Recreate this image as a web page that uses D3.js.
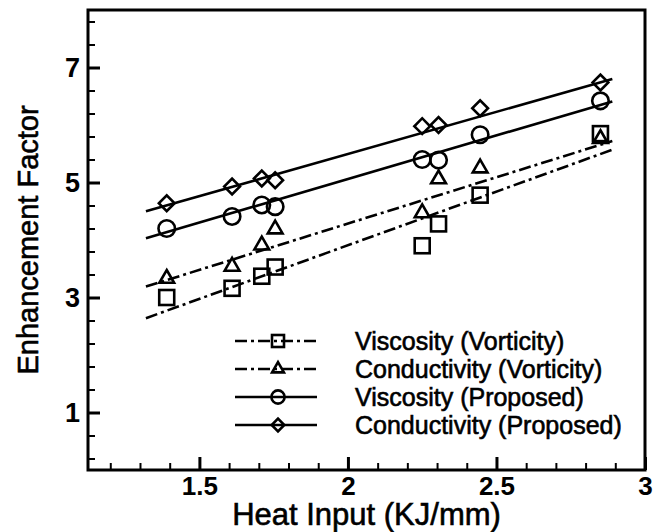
<!DOCTYPE html>
<html lang="en">
<head>
  <meta charset="UTF-8">
  <title>Enhancement Factor vs Heat Input</title>
  <style>
    body { margin: 0; background: #fff; }
    svg { display: block; font-family: "Liberation Sans", Arial, sans-serif; }
    .heavy { stroke: #000; stroke-width: 0.6px; }
  </style>
</head>
<body>
  <svg width="670" height="532"></svg>

  <script src="https://d3js.org/d3.v7.min.js"></script>
  <script>
    // values
    const heatInput = [1.39, 1.61, 1.71, 1.755, 2.25, 2.305, 2.445, 2.85];
    const viscVort = [3.00, 3.16, 3.37, 3.53, 3.90, 4.28, 4.78, 5.85];
    const condVort = [3.33, 3.54, 3.91, 4.19, 4.47, 5.06, 5.25, 5.76];
    const viscProp = [4.20, 4.41, 4.61, 4.58, 5.40, 5.39, 5.83, 6.42];
    const condProp = [4.64, 4.93, 5.07, 5.04, 5.98, 6.00, 6.29, 6.74];

    // fitted straight lines, ends
    const fitX = [1.32, 2.89];
    const fitViscVort = [2.64, 5.57];
    const fitCondVort = [3.19, 5.72];
    const fitViscProp = [4.03, 6.41];
    const fitCondProp = [4.50, 6.80];

    const seriesNames = ["Viscosity (Vorticity)", "Conductivity (Vorticity)",
                         "Viscosity (Proposed)", "Conductivity (Proposed)"];
    const xTickLabels = [1.5, 2, 2.5, 3];
    const yTickLabels = [1, 3, 5, 7];

    const series = [
      { name: seriesNames[0], ys: viscVort, fit: fitViscVort, marker: "square", dash: "12 4 3 4" },
      { name: seriesNames[1], ys: condVort, fit: fitCondVort, marker: "triangle", dash: "12 4 3 4" },
      { name: seriesNames[2], ys: viscProp, fit: fitViscProp, marker: "circle", dash: null },
      { name: seriesNames[3], ys: condProp, fit: fitCondProp, marker: "diamond", dash: null }
    ];

    const svg = d3.select("svg");
    const x = d3.scaleLinear().domain([1.125, 3]).range([88, 645]);
    const y = d3.scaleLinear().domain([0, 8]).range([470, 10]);

    // minor ticks
    const xMinor = d3.range(1.2, 3.0, 0.1).map(v => +v.toFixed(1)).filter(v => !xTickLabels.includes(v));
    const yMinor = d3.range(0.2, 8, 0.4).map(v => +v.toFixed(1)).filter(v => !yTickLabels.includes(v));

    svg.append("g").attr("transform", `translate(0,${y(0)})`)
      .call(d3.axisBottom(x).tickValues(xMinor).tickSizeInner(-7).tickSizeOuter(0).tickFormat(""))
      .call(g => g.select(".domain").remove())
      .call(g => g.selectAll("line").attr("stroke-width", 2));
    svg.append("g").attr("transform", `translate(${x(1.125)},0)`)
      .call(d3.axisLeft(y).tickValues(yMinor).tickSizeInner(-7).tickSizeOuter(0).tickFormat(""))
      .call(g => g.select(".domain").remove())
      .call(g => g.selectAll("line").attr("stroke-width", 2));

    // major ticks + labels
    svg.append("g").attr("transform", `translate(0,${y(0)})`)
      .call(d3.axisBottom(x).tickValues(xTickLabels).tickSizeInner(-13).tickSizeOuter(0).tickPadding(7).tickFormat(d3.format("")))
      .call(g => g.select(".domain").remove())
      .call(g => g.selectAll("line").attr("stroke-width", 3))
      .call(g => g.selectAll("text").attr("font-size", 26).attr("font-weight", "bold")
        .attr("font-family", "'Liberation Sans', Arial, sans-serif").attr("fill", "#000"));
    svg.append("g").attr("transform", `translate(${x(1.125)},0)`)
      .call(d3.axisLeft(y).tickValues(yTickLabels).tickSizeInner(-12).tickSizeOuter(0).tickPadding(8))
      .call(g => g.select(".domain").remove())
      .call(g => g.selectAll("line").attr("stroke-width", 3))
      .call(g => g.selectAll("text").attr("font-size", 27).attr("font-weight", "bold")
        .attr("font-family", "'Liberation Sans', Arial, sans-serif").attr("fill", "#000"));

    // frame
    svg.append("rect")
      .attr("x", x(1.125)).attr("y", y(8))
      .attr("width", x(3) - x(1.125)).attr("height", y(0) - y(8))
      .attr("fill", "none").attr("stroke", "#000").attr("stroke-width", 3);

    // axis titles
    svg.append("text")
      .attr("class", "heavy")
      .attr("x", (x(1.125) + x(3)) / 2).attr("y", 525)
      .attr("text-anchor", "middle").attr("font-size", 31)
      .text("Heat Input (KJ/mm)");
    svg.append("text")
      .attr("class", "heavy")
      .attr("transform", `translate(38,${(y(0) + y(8)) / 2}) rotate(-90)`)
      .attr("text-anchor", "middle").attr("font-size", 29)
      .text("Enhancement Factor");

    function drawMarker(sel, type, cx, cy, s) {
      if (type === "circle") {
        sel.append("circle").attr("cx", cx).attr("cy", cy).attr("r", s * 0.55);
      } else if (type === "square") {
        sel.append("rect").attr("x", cx - s / 2).attr("y", cy - s / 2).attr("width", s).attr("height", s);
      } else if (type === "triangle") {
        sel.append("path").attr("transform", `translate(${cx},${cy})`)
          .attr("d", d3.symbol().type(d3.symbolTriangle).size(s * s * 0.42)());
      } else {
        sel.append("path").attr("transform", `translate(${cx},${cy}) rotate(45)`)
          .attr("d", d3.symbol().type(d3.symbolSquare).size(s * s * 0.55)());
      }
    }

    const line = d3.line().x(d => x(d[0])).y(d => y(d[1]));

    series.forEach(s => {
      svg.append("path")
        .datum(fitX.map((v, i) => [v, s.fit[i]]))
        .attr("d", line)
        .attr("fill", "none").attr("stroke", "#000").attr("stroke-width", 2.6)
        .attr("stroke-dasharray", s.dash);

      const mg = svg.append("g").attr("fill", "none").attr("stroke", "#000").attr("stroke-width", 2.6);
      heatInput.forEach((hv, i) => drawMarker(mg, s.marker, x(hv), y(s.ys[i]), 15));
    });

    // legend
    const legend = svg.append("g");
    series.forEach((s, i) => {
      const ly = 341 + i * 28;
      legend.append("line")
        .attr("x1", 235).attr("x2", 317).attr("y1", ly).attr("y2", ly)
        .attr("stroke", "#000").attr("stroke-width", 2.6)
        .attr("stroke-dasharray", s.dash);
      const mg = legend.append("g").attr("fill", "none").attr("stroke", "#000").attr("stroke-width", 2.6);
      drawMarker(mg, s.marker, 278, ly, 12);
      legend.append("text")
        .attr("class", "heavy")
        .attr("x", 355).attr("y", ly + 9)
        .attr("font-size", 25)
        .text(s.name);
    });
  </script>
</body>
</html>
